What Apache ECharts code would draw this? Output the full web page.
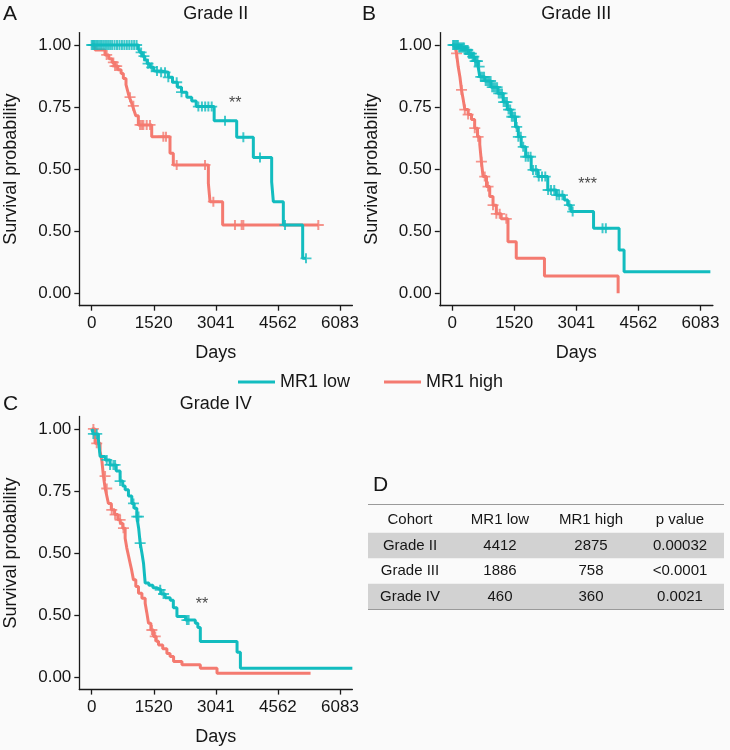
<!DOCTYPE html>
<html>
<head>
<meta charset="utf-8">
<script src="https://cdn.jsdelivr.net/npm/echarts@6/dist/echarts.min.js"></script>
<style>
html,body{margin:0;padding:0;background:#fafafa;}
#chart{width:730px;height:750px;}
</style>
</head>
<body>
<div id="chart"></div>
<script>
// ---------- axis ticks ----------
const xTicks = [0, 1520, 3041, 4562, 6083];
const xTickLabels = ['0', '1520', '3041', '4562', '6083'];
const yTicks = [0, 0.25, 0.5, 0.75, 1];
const yTickLabels = ['0.00', '0.50', '0.50', '0.75', '1.00'];

// ---------- legend ----------
const groupNames = ['MR1 low', 'MR1 high'];
const panelTitles = ['Grade II', 'Grade III', 'Grade IV'];

// ---------- Panel A : Grade II ----------
const timesLowA = [0, 1143, 1190, 1240, 1300, 1360, 1430, 1520, 1700, 1877, 1980, 2100, 2200, 2330, 2450, 2560, 3000, 3552, 3960, 4409, 4450, 4695, 5169, 5250];
const survLowA  = [1, 0.985, 0.97, 0.955, 0.94, 0.925, 0.91, 0.895, 0.89, 0.87, 0.85, 0.83, 0.81, 0.79, 0.775, 0.752, 0.695, 0.628, 0.547, 0.449, 0.369, 0.275, 0.141, 0.141];
const censorLowA = [0, 30, 60, 90, 130, 170, 210, 250, 300, 350, 400, 450, 500, 560, 620, 680, 740, 800, 860, 920, 980, 1040, 1100, 1210, 1280, 1380, 1470, 1600, 1700, 1796, 1877, 2082, 2200, 2613, 2700, 2780, 2858, 2940, 3266, 3715, 4123, 4736, 5250];

const timesHighA = [0, 81, 326, 420, 500, 560, 640, 720, 775, 840, 880, 920, 960, 1000, 1040, 1080, 1143, 1470, 1918, 1999, 2858, 2899, 3208, 5552];
const survHighA  = [1, 0.98, 0.96, 0.945, 0.93, 0.915, 0.9, 0.885, 0.865, 0.84, 0.815, 0.79, 0.775, 0.755, 0.735, 0.715, 0.678, 0.631, 0.564, 0.517, 0.443, 0.369, 0.275, 0.275];
const censorHighA = [367, 530, 571, 612, 939, 1020, 1184, 1230, 1265, 1347, 1429, 1755, 1820, 2082, 2776, 2980, 3510, 3674, 3715, 5552];

// ---------- Panel B : Grade III ----------
const timesLowB = [0, 150, 309, 400, 472, 550, 634, 675, 800, 950, 1122, 1250, 1350, 1447, 1550, 1620, 1691, 1800, 1935, 2100, 2341, 2550, 2748, 2830, 2911, 3463, 4089, 4211, 6325];
const survLowB  = [1, 0.99, 0.98, 0.965, 0.953, 0.935, 0.913, 0.872, 0.855, 0.83, 0.805, 0.77, 0.74, 0.711, 0.67, 0.63, 0.59, 0.55, 0.497, 0.47, 0.416, 0.395, 0.376, 0.355, 0.329, 0.262, 0.174, 0.087, 0.087];
const censorLowB = [20, 50, 80, 110, 140, 170, 200, 230, 260, 290, 320, 350, 380, 410, 440, 470, 500, 530, 560, 590, 620, 660, 700, 740, 780, 820, 860, 900, 940, 980, 1020, 1060, 1100, 1140, 1180, 1220, 1260, 1300, 1340, 1380, 1420, 1460, 1500, 1540, 1580, 1620, 1680, 1740, 1800, 1860, 1920, 1980, 2050, 2120, 2200, 2280, 2350, 2420, 2500, 2560, 2620, 2700, 2870, 2951, 3683, 3764];

const timesHighB = [0, 60, 106, 146, 190, 228, 270, 309, 390, 472, 550, 620, 675, 715, 756, 840, 919, 1000, 1081, 1200, 1366, 1569, 2260, 4065];
const survHighB  = [1, 0.993, 0.966, 0.913, 0.87, 0.819, 0.78, 0.74, 0.72, 0.7, 0.665, 0.63, 0.6, 0.53, 0.47, 0.43, 0.39, 0.355, 0.32, 0.3, 0.208, 0.141, 0.07, 0];
const censorHighB = [106, 228, 309, 390, 553, 634, 715, 797, 878, 1000, 1081, 1163, 1325];

// ---------- Panel C : Grade IV ----------
const timesLowC = [0, 41, 164, 205, 330, 450, 600, 696, 760, 819, 900, 982, 1040, 1105, 1150, 1187, 1230, 1269, 1310, 1400, 1500, 1597, 1700, 1800, 1924, 2000, 2088, 2300, 2538, 2600, 2661, 3561, 3643, 6386];
const survLowC  = [1, 0.98, 0.956, 0.889, 0.875, 0.855, 0.83, 0.79, 0.77, 0.755, 0.73, 0.7, 0.68, 0.647, 0.6, 0.54, 0.5, 0.459, 0.379, 0.37, 0.36, 0.352, 0.335, 0.32, 0.31, 0.28, 0.244, 0.23, 0.217, 0.2, 0.144, 0.1, 0.036, 0.036];
const censorLowC = [41, 123, 368, 450, 532, 573, 696, 1023, 1105, 1146, 1187, 1678, 1760, 2333, 2374];

const timesHighC = [0, 82, 205, 250, 287, 330, 370, 409, 480, 560, 640, 700, 760, 819, 860, 900, 941, 980, 1023, 1080, 1146, 1230, 1310, 1350, 1392, 1450, 1515, 1580, 1637, 1740, 1842, 1920, 2006, 2211, 2661, 3070, 5362];
const survHighC  = [1, 0.942, 0.91, 0.87, 0.81, 0.76, 0.73, 0.7, 0.674, 0.655, 0.634, 0.62, 0.6, 0.56, 0.52, 0.49, 0.459, 0.43, 0.392, 0.365, 0.338, 0.318, 0.298, 0.26, 0.217, 0.19, 0.164, 0.145, 0.13, 0.115, 0.095, 0.083, 0.063, 0.05, 0.036, 0.016, 0.016];
const censorHighC = [41, 123, 327, 368, 491, 573, 696, 778, 1474, 1556];

// ---------- significance marks ----------
const sigText = ['**', '***', '**'];
const sigDay  = [3514, 3317, 2702];
const sigSurv = [0.766, 0.436, 0.291];

// ---------- table D ----------
const tableHeader = ['Cohort', 'MR1 low', 'MR1 high', 'p value'];
const tableCohort = ['Grade II', 'Grade III', 'Grade IV'];
const tableLow    = ['4412', '1886', '460'];
const tableHigh   = ['2875', '758', '360'];
const tablePval   = ['0.00032', '<0.0001', '0.0021'];

// ---------- rendering ----------
const TEAL = '#12BCBF';
const RED = '#F47A70';
const FONT = '"Liberation Sans", Arial, Helvetica, sans-serif';
const TXT = '#161616';

function stepValue(times, surv, t) {
  let v = surv[0];
  for (let i = 0; i < times.length; i++) { if (times[i] <= t) v = surv[i]; else break; }
  return v;
}
const plus = 'path://M0,4.1H10V5.9H0Z M4.1,0H5.9V10H4.1Z';

const grids = [
  {left: 79.3, top: 32.6, width: 273.1, height: 273.1},
  {left: 439.8, top: 32.6, width: 273.1, height: 273.1},
  {left: 79.3, top: 416.5, width: 273.1, height: 273.1}
];
const panels = [
  {tl: timesLowA, sl: survLowA, cl: censorLowA, th: timesHighA, sh: survHighA, ch: censorHighA},
  {tl: timesLowB, sl: survLowB, cl: censorLowB, th: timesHighB, sh: survHighB, ch: censorHighB},
  {tl: timesLowC, sl: survLowC, cl: censorLowC, th: timesHighC, sh: survHighC, ch: censorHighC}
];

const axisLineStyle = {color: '#1a1a1a', width: 1.3};
const xAxes = grids.map((g, i) => ({
  type: 'value', gridIndex: i, min: -304.15, max: 6387.15,
  name: 'Days', nameLocation: 'middle', nameGap: 38,
  nameTextStyle: {fontFamily: FONT, fontSize: 18, color: TXT},
  axisLine: {lineStyle: axisLineStyle, onZero: false},
  axisTick: {show: true, length: 5, lineStyle: axisLineStyle, customValues: xTicks},
  axisLabel: {customValues: xTicks, formatter: v => xTickLabels[xTicks.indexOf(v)], fontFamily: FONT, fontSize: 17, color: TXT, margin: 9},
  splitLine: {show: false}
}));
const yAxes = grids.map((g, i) => ({
  type: 'value', gridIndex: i, min: -0.05, max: 1.05,
  name: 'Survival probability', nameLocation: 'middle', nameGap: 59, nameRotate: 90,
  nameTextStyle: {fontFamily: FONT, fontSize: 18, color: TXT},
  axisLine: {lineStyle: axisLineStyle, onZero: false},
  axisTick: {show: true, length: 5, lineStyle: axisLineStyle, customValues: yTicks},
  axisLabel: {customValues: yTicks, formatter: v => yTickLabels[yTicks.indexOf(v)], fontFamily: FONT, fontSize: 17, color: TXT, margin: 8},
  splitLine: {show: false}
}));

const series = [];
panels.forEach((p, i) => {
  series.push({
    name: groupNames[0], type: 'line', step: 'end', xAxisIndex: i, yAxisIndex: i,
    showSymbol: false, symbol: 'none', color: TEAL, lineStyle: {width: 3, color: TEAL},
    data: p.tl.map((t, k) => [t, p.sl[k]]), z: 3
  });
  series.push({
    name: groupNames[1], type: 'line', step: 'end', xAxisIndex: i, yAxisIndex: i,
    showSymbol: false, symbol: 'none', color: RED, lineStyle: {width: 3, color: RED},
    data: p.th.map((t, k) => [t, p.sh[k]]), z: 2
  });
  series.push({
    name: 'low censor ' + i, type: 'scatter', xAxisIndex: i, yAxisIndex: i,
    symbol: plus, symbolSize: [11, 10], itemStyle: {color: TEAL}, z: 3,
    data: p.cl.map(t => [t, stepValue(p.tl, p.sl, t)])
  });
  series.push({
    name: 'high censor ' + i, type: 'scatter', xAxisIndex: i, yAxisIndex: i,
    symbol: plus, symbolSize: [11, 10], itemStyle: {color: RED}, z: 2,
    data: p.ch.map(t => [t, stepValue(p.th, p.sh, t)])
  });
  series.push({
    name: 'sig ' + i, type: 'scatter', xAxisIndex: i, yAxisIndex: i,
    symbolSize: 0, silent: true,
    label: {show: true, position: 'inside', formatter: sigText[i], fontFamily: FONT, fontSize: 16, color: TXT},
    data: [[sigDay[i], sigSurv[i]]]
  });
});

const graphic = [];
function txt(x, y, s, size, align) {
  graphic.push({type: 'text', x: x, y: y, style: {text: s, fill: TXT, font: size + 'px ' + FONT, align: align || 'center', verticalAlign: 'middle'}});
}
// panel letters
txt(3, 14, 'A', 21, 'left');
txt(362, 14, 'B', 21, 'left');
txt(3, 404, 'C', 21, 'left');
txt(373, 485, 'D', 21, 'left');
// panel titles
const titleX = [215.8, 576.3, 215.8];
const titleY = [14, 14, 404];
panelTitles.forEach((t, i) => txt(titleX[i], titleY[i], t, 18));

// table
const tLeft = 368, tRight = 724;
const colX = [410, 500, 591, 680];
const rowY = [545.5, 571, 596.5];
[0, 2].forEach(r => graphic.push({type: 'rect', shape: {x: tLeft, y: rowY[r] - 12.8, width: tRight - tLeft, height: 25.6}, style: {fill: '#d2d2d2'}, z: -1}));
graphic.push({type: 'line', shape: {x1: tLeft, y1: 504.5, x2: tRight, y2: 504.5}, style: {stroke: '#9a9a9a', lineWidth: 1}});
graphic.push({type: 'line', shape: {x1: tLeft, y1: 609.5, x2: tRight, y2: 609.5}, style: {stroke: '#9a9a9a', lineWidth: 1}});
tableHeader.forEach((h, c) => txt(colX[c], 519.5, h, 15));
tableCohort.forEach((v, r) => {
  txt(colX[0], rowY[r], v, 15);
  txt(colX[1], rowY[r], tableLow[r], 15);
  txt(colX[2], rowY[r], tableHigh[r], 15);
  txt(colX[3], rowY[r], tablePval[r], 15);
});

const chart = echarts.init(document.getElementById('chart'), null, {renderer: 'canvas'});
chart.setOption({
  backgroundColor: '#fafafa',
  animation: false,
  grid: grids.map(g => Object.assign({containLabel: false, outerBoundsMode: 'none'}, g)),
  xAxis: xAxes,
  yAxis: yAxes,
  legend: {
    data: [{name: groupNames[0], icon: 'rect'}, {name: groupNames[1], icon: 'rect'}],
    left: 233, top: 368, itemWidth: 37, itemHeight: 3, itemGap: 34,
    textStyle: {fontFamily: FONT, fontSize: 18, color: TXT},
    selectedMode: false
  },
  series: series,
  graphic: graphic
});
</script>
</body>
</html>
